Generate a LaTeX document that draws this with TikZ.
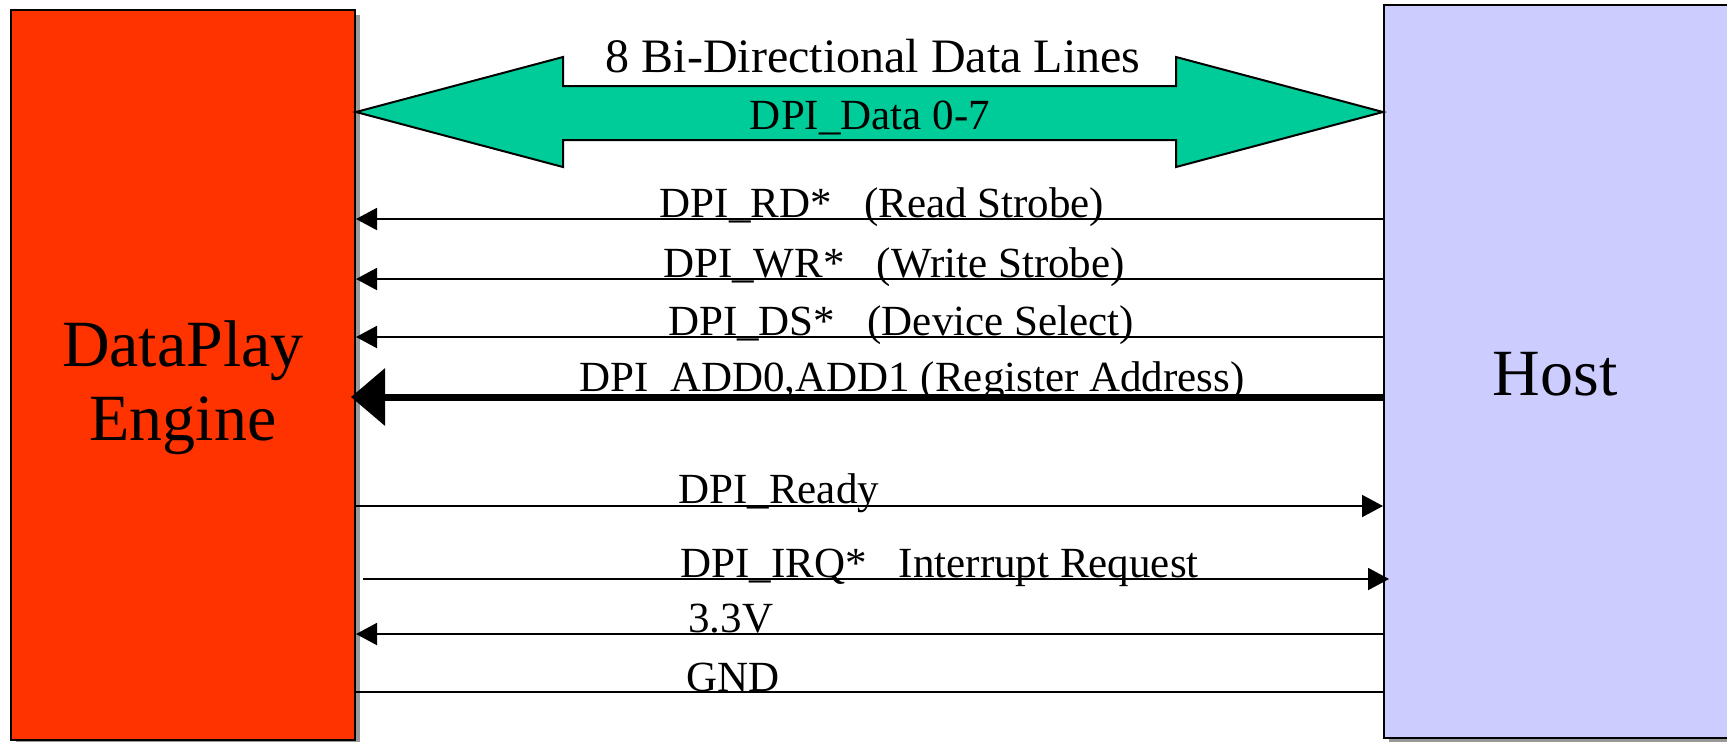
\documentclass[tikz,border=0pt]{standalone}
\usepackage{fontspec}
\setmainfont{Liberation Serif}
\usepackage{xcolor}
\usetikzlibrary{arrows.meta, shadows, positioning, calc}
\definecolor{engine red}{HTML}{FF3300}
\definecolor{host blue}{HTML}{CCCCFF}
\definecolor{bus green}{HTML}{00CC99}
\definecolor{shadow gray}{HTML}{999999}

\begin{document}
\begin{tikzpicture}[x=0.5pt, y=-0.5pt,
	box/.style={draw, line width=1pt, inner sep=0pt,
		drop shadow={fill=shadow gray, opacity=1, shadow xshift=2.5pt, shadow yshift=-2.5pt}},
	biglabel/.style={font=\fontsize{33}{37}\selectfont, align=center},
	siglabel/.style={font=\fontsize{21.5}{26}\selectfont, inner sep=0pt},
	wire/.style={line width=1pt},
	tosig/.style={wire, -{Triangle[length=10.5pt, width=11pt]}},
	busline/.style={line width=3.5pt, -{Triangle[length=17pt, width=28pt]}}]
			\useasboundingbox (0,0) rectangle (1727,741);
			
			\node[box, fill=engine red, minimum width=172pt, minimum height=365pt,
				label={[biglabel, yshift=-6.5pt]center:DataPlay\\Engine}] (engine) at (183,375) {};
			\node[box, fill=host blue, minimum width=193pt, minimum height=366.5pt] (host) at (1577,371.5) {};
			\node[biglabel, anchor=base] (hostname) at (1555,395) {Host};
			
			\draw[line width=1pt, fill=bus green] (engine.east |- 0,112) -- (563,57) -- (563,86) -- (1176,86) -- (1176,57)
				-- (host.west |- 0,112) -- (1176,167) -- (1176,140) -- (563,140) -- (563,167) -- cycle;
			\node[siglabel, font=\fontsize{24}{28}\selectfont, anchor=base] (buslabel) at (873,72) {8 Bi-Directional Data Lines};
			\node[siglabel, anchor=base] (datalabel) at (870,129) {DPI\_Data 0-7};
			
			\node[siglabel, anchor=base] (rdlabel) at (882,217) {DPI\_RD*\ \ \ (Read Strobe)};
			\node[siglabel, anchor=base] (wrlabel) at (894,277) {DPI\_WR*\ \ \ (Write Strobe)};
			\node[siglabel, anchor=base] (dslabel) at (901,335) {DPI\_DS*\ \ \ (Device Select)};
			\node[siglabel, anchor=base] (addlabel) at (912,391) {DPI\_ADD0,ADD1 (Register Address)};
			\node[siglabel, anchor=base west] (readylabel) at (678,503) {DPI\_Ready};
			\node[siglabel, anchor=base west] (irqlabel) at (680,577) {DPI\_IRQ*\ \ \ Interrupt Request};
			\node[siglabel, anchor=base west] (vcclabel) at (688,632) {3.3V};
			\node[siglabel, anchor=base west] (gndlabel) at (686,691) {GND};
			
			\draw[tosig] (host.west |- 0,219) -- (engine.east |- 0,219);
			\draw[tosig] (host.west |- 0,279) -- (engine.east |- 0,279);
			\draw[tosig] (host.west |- 0,337) -- (engine.east |- 0,337);
			\draw[busline] (host.west |- 0,397) -- ($(engine.east |- 0,397)+(-5,0)$);
			\draw[tosig] (engine.east |- 0,506) -- (host.west |- 0,506);
			\draw[tosig] ($(engine.east |- 0,579)+(7,0)$) -- ($(host.west |- 0,579)+(6,0)$);
			\draw[tosig] (host.west |- 0,634) -- (engine.east |- 0,634);
			\draw[wire] (host.west |- 0,692) -- (engine.east |- 0,692);
		\end{tikzpicture}
\end{document}
